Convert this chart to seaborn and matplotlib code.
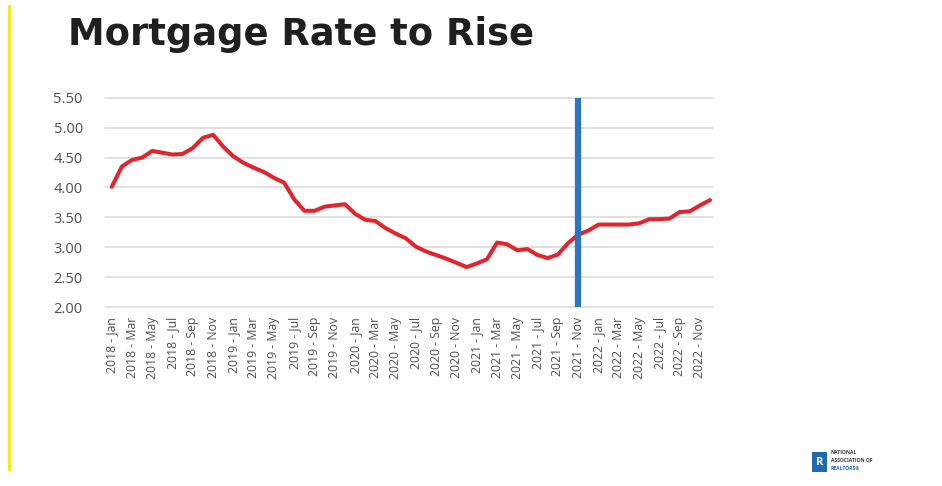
import matplotlib
matplotlib.use("Agg")
import matplotlib.pyplot as plt
import matplotlib.patches as mpatches
import seaborn as sns
import pandas as pd
import numpy as np

# Monthly 30-year fixed mortgage rate, Jan 2018 - Dec 2022 (actual + forecast)
years = [2018, 2019, 2020, 2021, 2022]
month_names = ["Jan", "Feb", "Mar", "Apr", "May", "Jun",
               "Jul", "Aug", "Sep", "Oct", "Nov", "Dec"]
rates = [4.01, 4.35, 4.46, 4.50, 4.61, 4.58, 4.55, 4.56, 4.66, 4.83, 4.88, 4.68,
         4.52, 4.41, 4.33, 4.26, 4.16, 4.08, 3.80, 3.61, 3.61, 3.68, 3.70, 3.72,
         3.56, 3.46, 3.44, 3.32, 3.23, 3.15, 3.01, 2.93, 2.87, 2.81, 2.74, 2.67,
         2.73, 2.80, 3.08, 3.05, 2.95, 2.97, 2.87, 2.82, 2.88, 3.07, 3.21, 3.28,
         3.38, 3.38, 3.38, 3.38, 3.40, 3.47, 3.47, 3.48, 3.59, 3.60, 3.70, 3.79]
forecast_start = "2021 - Nov"
y_ticks = [2.00, 2.50, 3.00, 3.50, 4.00, 4.50, 5.00, 5.50]

periods = [f"{y} - {m}" for y in years for m in month_names]
df = pd.DataFrame({"idx": np.arange(len(periods)), "period": periods, "rate": rates})

sns.set_style("white")
plt.rcParams["font.family"] = ["Open Sans", "DejaVu Sans"]

fig = plt.figure(figsize=(9.42, 4.86), dpi=100)
ax = fig.add_axes([0.1115, 0.368, 0.6455, 0.431])

ax.set_ylim(2.0, 5.5)
ax.set_xlim(-0.66, 59.3)
ax.set_yticks(y_ticks)
ax.set_yticklabels([f"{v:.2f}" for v in y_ticks], fontsize=10.5, color="#505050")
ax.grid(axis="y", color="#d9d9d9", linewidth=1.1)
for gl in ax.get_ygridlines():
    gl.set_clip_on(False)
ax.set_axisbelow(True)

sns.lineplot(data=df, x="idx", y="rate", color="#e1252d", linewidth=2.9, ax=ax)

# forecast marker
ax.axvline(periods.index(forecast_start), ymin=0, ymax=1, color="#2e75c1", linewidth=4.5)

tick_idx = df["idx"][::2]
ax.set_xticks(tick_idx)
ax.set_xticklabels(df["period"][::2], rotation=90, fontsize=8.8, color="#505050")
ax.tick_params(axis="x", length=0, pad=7)
ax.tick_params(axis="y", length=0, pad=16)
ax.set_xlabel("")
ax.set_ylabel("")
for s in ax.spines.values():
    s.set_visible(False)

fig.text(0.072, 0.93, "Mortgage Rate to Rise", fontsize=26.6, fontweight="bold",
         color="#1f1f1f", va="center", ha="left", family=["DejaVu Sans"])

# yellow accent bar on the left edge
fig.add_artist(mpatches.Rectangle((0.0085, 0.03), 0.003, 0.96, transform=fig.transFigure,
                                  color="#f2ea1c", linewidth=0))

# NAR logo
fig.add_artist(mpatches.Rectangle((0.862, 0.028), 0.016, 0.042, transform=fig.transFigure,
                                  color="#1f69b4", linewidth=0))
fig.text(0.870, 0.049, "R", fontsize=8, fontweight="bold", color="white",
         ha="center", va="center")
fig.text(0.882, 0.068, "NATIONAL", fontsize=3.6, fontweight="bold", color="#333333", va="center")
fig.text(0.882, 0.052, "ASSOCIATION OF", fontsize=3.6, fontweight="bold", color="#333333", va="center")
fig.text(0.882, 0.036, "REALTORS®", fontsize=3.6, fontweight="bold", color="#1f69b4", va="center")

fig.savefig("out.png", dpi=100, facecolor="white")
